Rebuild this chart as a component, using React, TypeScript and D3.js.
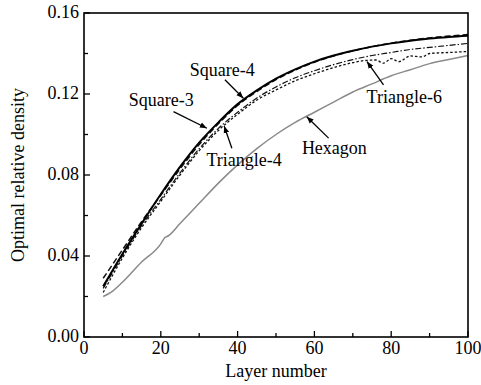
import React from "react";
import * as d3 from "d3";

const layers = [5, 10, 15, 20, 25, 30, 35, 40, 45, 50, 55, 60, 65, 70, 75, 80, 85, 90, 95, 100];
const square4 = [0.025, 0.041, 0.056, 0.0705, 0.084, 0.096, 0.106, 0.115, 0.1218, 0.1276, 0.1322, 0.136, 0.139, 0.1414, 0.1434, 0.145, 0.1463, 0.1474, 0.1482, 0.1488];
const square3 = [0.029, 0.043, 0.057, 0.070, 0.083, 0.095, 0.1053, 0.1143, 0.1212, 0.1271, 0.1318, 0.1357, 0.1388, 0.1413, 0.1434, 0.1451, 0.1465, 0.1477, 0.1486, 0.1494];
const triangle4 = [0.024, 0.040, 0.055, 0.068, 0.081, 0.093, 0.103, 0.111, 0.118, 0.1235, 0.128, 0.1315, 0.1345, 0.137, 0.139, 0.1405, 0.142, 0.143, 0.144, 0.145];
const triangle6X = [5, 10, 15, 20, 25, 30, 35, 40, 45, 50, 55, 60, 65, 70, 73, 76, 78, 80, 82, 85, 88, 90, 95, 100];
const triangle6 = [0.022, 0.039, 0.054, 0.067, 0.080, 0.092, 0.102, 0.110, 0.117, 0.122, 0.1265, 0.130, 0.133, 0.1355, 0.1365, 0.1368, 0.1352, 0.1375, 0.136, 0.1388, 0.1383, 0.140, 0.1405, 0.141];
const hexagonX = [5, 7, 10, 15, 20, 21, 22, 25, 30, 35, 40, 45, 50, 55, 60, 65, 70, 75, 80, 85, 90, 95, 100];
const hexagon = [0.020, 0.022, 0.027, 0.037, 0.046, 0.049, 0.050, 0.056, 0.066, 0.076, 0.085, 0.093, 0.100, 0.106, 0.111, 0.116, 0.121, 0.125, 0.129, 0.132, 0.135, 0.137, 0.139];

const xTicks = [0, 20, 40, 60, 80, 100];
const xMinor = [10, 30, 50, 70, 90];
const yTicks = [0, 0.04, 0.08, 0.12, 0.16];
const yMinor = [0.02, 0.06, 0.1, 0.14];

const labels = ["Square-3", "Square-4", "Triangle-4", "Triangle-6", "Hexagon"];
const labelX = [20.1, 36.0, 41.7, 83.4, 65.2];
const labelY = [0.117, 0.1319, 0.0875, 0.1185, 0.0934];
const arrowFromX = [23.3, 36.7, 38.5, 78, 63.7];
const arrowFromY = [0.1113, 0.127, 0.0932, 0.1245, 0.0982];
const arrowToX = [32.0, 41.5, 36.5, 73.7, 58];
const arrowToY = [0.1031, 0.1179, 0.1042, 0.136, 0.1088];

const W = 481, H = 385;
const m = { left: 84, top: 13, right: 13, bottom: 48 };

export default function App() {
  const x = d3.scaleLinear().domain([0, 100]).range([m.left, W - m.right]);
  const y = d3.scaleLinear().domain([0, 0.16]).range([H - m.bottom, m.top]);
  const mk = (xs: number[], ys: number[]) =>
    d3.line<number>().x((_, i) => x(xs[i])).y((d) => y(d)).curve(d3.curveMonotoneX)(ys) || "";
  const font = "'Liberation Serif', 'Times New Roman', serif";
  const series = [
    { d: mk(hexagonX, hexagon), stroke: "#8a8a8a", w: 1.5, dash: undefined },
    { d: mk(triangle6X, triangle6), stroke: "#111", w: 1.3, dash: "2.5,2" },
    { d: mk(layers, triangle4), stroke: "#111", w: 1.2, dash: "6,2,1.5,2" },
    { d: mk(layers, square3), stroke: "#111", w: 1.5, dash: "6,3" },
    { d: mk(layers, square4), stroke: "#000", w: 2, dash: undefined },
  ];
  const y0 = y(0);
  return (
    <svg width={W} height={H} style={{ position: "absolute", left: 0, top: 0 }}>
      <rect x={0} y={0} width={W} height={H} fill="#fff" />
      <defs>
        <marker id="ah" viewBox="0 0 10 10" refX="10" refY="5" markerWidth="7" markerHeight="7" orient="auto" markerUnits="userSpaceOnUse">
          <path d="M0,1 L10,5 L0,9 z" fill="#000" />
        </marker>
      </defs>
      {series.map((s, i) => (
        <path key={i} d={s.d} fill="none" stroke={s.stroke} strokeWidth={s.w} strokeDasharray={s.dash} />
      ))}
      <rect x={x(0)} y={y(0.16)} width={x(100) - x(0)} height={y(0) - y(0.16)} fill="none" stroke="#000" strokeWidth={1.6} />
      {xTicks.map((t) => (
        <g key={"x" + t}>
          <line x1={x(t)} x2={x(t)} y1={y0} y2={y0 - 6} stroke="#000" strokeWidth={1.3} />
          <text x={x(t)} y={y0 + 17} textAnchor="middle" fontFamily={font} fontSize={18}>{t}</text>
        </g>
      ))}
      {xMinor.map((t) => (
        <line key={"xm" + t} x1={x(t)} x2={x(t)} y1={y0} y2={y0 - 4} stroke="#000" strokeWidth={1.3} />
      ))}
      {yTicks.map((t) => (
        <g key={"y" + t}>
          <line x1={x(0)} x2={x(0) + 6} y1={y(t)} y2={y(t)} stroke="#000" strokeWidth={1.3} />
          <text x={x(0) - 5} y={y(t) + 5} textAnchor="end" fontFamily={font} fontSize={18}>{t.toFixed(2)}</text>
        </g>
      ))}
      {yMinor.map((t) => (
        <line key={"ym" + t} x1={x(0)} x2={x(0) + 4} y1={y(t)} y2={y(t)} stroke="#000" strokeWidth={1.3} />
      ))}
      <text x={(x(0) + x(100)) / 2} y={377} textAnchor="middle" fontFamily={font} fontSize={18}>Layer number</text>
      <text transform={`translate(24,${(y(0) + y(0.16)) / 2}) rotate(-90)`} textAnchor="middle" fontFamily={font} fontSize={18}>Optimal relative density</text>
      {labels.map((l, i) => (
        <g key={l}>
          <text x={x(labelX[i])} y={y(labelY[i]) + 6} textAnchor="middle" fontFamily={font} fontSize={18}>{l}</text>
          <line x1={x(arrowFromX[i])} y1={y(arrowFromY[i])} x2={x(arrowToX[i])} y2={y(arrowToY[i])} stroke="#000" strokeWidth={1.3} markerEnd="url(#ah)" />
        </g>
      ))}
    </svg>
  );
}
